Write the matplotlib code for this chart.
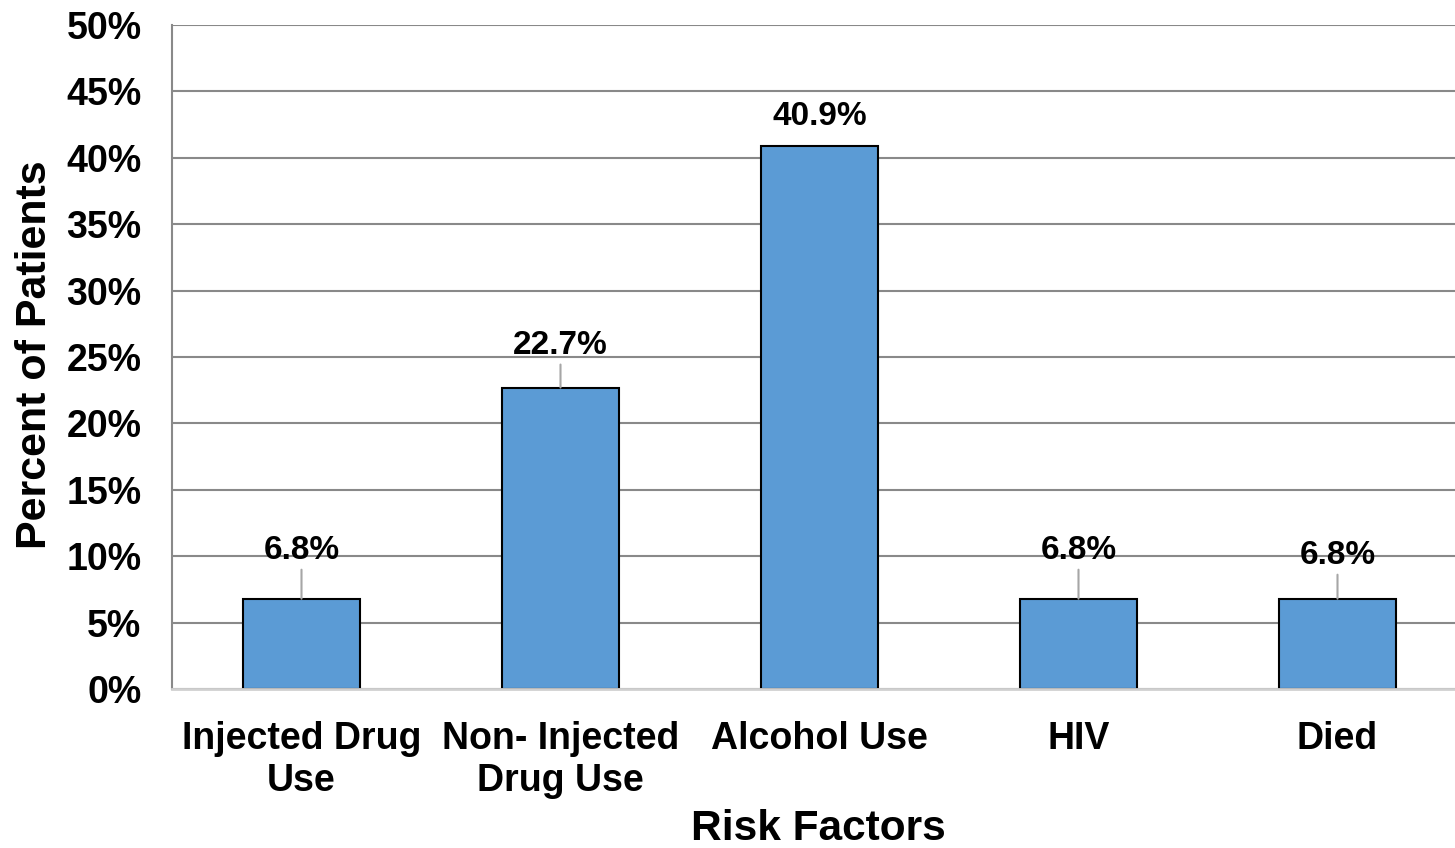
import matplotlib
matplotlib.use("Agg")
import matplotlib.pyplot as plt

categories = ["Injected Drug\nUse", "Non- Injected\nDrug Use", "Alcohol Use", "HIV", "Died"]
values = [6.8, 22.7, 40.9, 6.8, 6.8]
yticks = [0, 5, 10, 15, 20, 25, 30, 35, 40, 45, 50]
ytick_labels = ["0%", "5%", "10%", "15%", "20%", "25%", "30%", "35%", "40%", "45%", "50%"]
value_labels = ["6.8%", "22.7%", "40.9%", "6.8%", "6.8%"]

# label offsets above bar tops (pixels) and whether leader line shown
label_offsets_px = [48, 42, 29, 48, 43]
leader_lines = [True, True, False, True, True]

plt.rcParams['font.family'] = ['Liberation Sans', 'DejaVu Sans']
plt.rcParams['font.weight'] = 'bold'

W, H, DPI = 1455, 848, 100
fig = plt.figure(figsize=(W / DPI, H / DPI), dpi=DPI)
left = 172 / W
right = 1467 / W
bottom = 1 - 689 / H
top = 1 - 25 / H
ax = fig.add_axes([left, bottom, right - left, top - bottom])

x = list(range(len(categories)))
ax.bar(x, values, width=0.45, color="#5B9BD5", edgecolor="black", linewidth=1.5, zorder=3)

ax.set_xlim(-0.5, len(categories) - 0.5)
ax.set_ylim(0, 50)
ax.set_yticks(yticks)
ax.set_yticklabels(ytick_labels, fontsize=27, fontweight='bold')
ax.set_xticks(x)
ax.set_xticklabels(categories, fontsize=27, fontweight='bold', linespacing=1.2)
ax.tick_params(axis='both', length=0)
ax.tick_params(axis='y', pad=22)
ax.tick_params(axis='x', pad=23)

ax.yaxis.grid(True, color="#898989", linewidth=1.5, zorder=0)
ax.set_axisbelow(True)
for s in ["top", "right"]:
    ax.spines[s].set_visible(False)
ax.spines["left"].set_color("#898989")
ax.spines["left"].set_linewidth(1.5)
ax.spines["bottom"].set_color("#d0d0d0")
ax.spines["bottom"].set_linewidth(2)
ax.spines["bottom"].set_zorder(4)

px_to_pt = 72 / DPI
for xi, v, lab, off, ll in zip(x, values, value_labels, label_offsets_px, leader_lines):
    ax.annotate(lab, xy=(xi, v), xytext=(0, off * px_to_pt), textcoords="offset points",
                ha="center", va="center", fontsize=24, fontweight='bold', zorder=5)
    if ll:
        ax.annotate("", xy=(xi, v), xytext=(0, (off - 19) * px_to_pt), textcoords="offset points",
                    arrowprops=dict(arrowstyle="-", color="#a6a6a6", lw=1.5, shrinkA=0, shrinkB=0),
                    zorder=4)

fig.text(818 / W, 1 - 829 / H, "Risk Factors", fontsize=30.5, fontweight='bold',
         ha='center', va='center')
fig.text(35 / W, 1 - 355 / H, "Percent of Patients", fontsize=31, fontweight='bold',
         ha='center', va='center', rotation=90)

fig.savefig("out.png", dpi=DPI)
